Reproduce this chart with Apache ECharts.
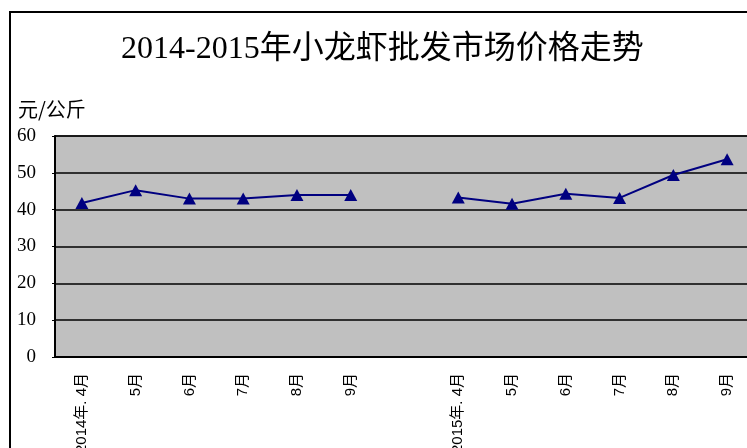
<!DOCTYPE html>
<html>
<head>
<meta charset="utf-8">
<script src="https://cdn.jsdelivr.net/npm/echarts@6/dist/echarts.min.js"></script>
<style>
html,body{margin:0;padding:0;background:#fff;}
#c{width:747px;height:448px;}
</style>
</head>
<body>
<div id="c"></div>
<script>
const titleText = '2014-2015年小龙虾批发市场价格走势';
const unitText = '元/公斤';
const categories = ['2014年. 4月','5月','6月','7月','8月','9月','','2015年. 4月','5月','6月','7月','8月','9月'];
const prices = [41.8, 45.3, 43.0, 43.0, 44.0, 44.0, null, 43.3, 41.6, 44.3, 43.2, 49.4, 53.7];
const yTicks = {min: 0, max: 60, interval: 10};

const chart = echarts.init(document.getElementById('c'), null, {renderer: 'canvas'});
chart.setOption({
  backgroundColor: '#ffffff',
  animation: false,
  title: {
    text: titleText,
    left: 116,
    top: 29,
    textStyle: {fontFamily: "'Liberation Serif','Noto Sans CJK SC'", fontSize: 32, fontWeight: 'normal', color: '#000'}
  },
  graphic: [
    {type: 'rect', shape: {x: 10, y: 12, width: 800, height: 500}, style: {fill: 'none', stroke: '#000', lineWidth: 2}, z: 100},
    {type: 'text', left: 18, top: 99, style: {text: unitText, font: "20px 'Noto Sans CJK SC'", fill: '#000'}}
  ],
  grid: {
    left: 55, top: 136, width: 699, height: 221,
    outerBoundsMode: 'none',
    containLabel: false,
    show: true, backgroundColor: '#c0c0c0', borderColor: '#444', borderWidth: 1.5
  },
  xAxis: {
    type: 'category',
    data: categories,
    boundaryGap: true,
    axisLine: {lineStyle: {color: '#000', width: 2}},
    axisTick: {inside: true, length: 4, lineStyle: {color: '#000', width: 1.5}, alignWithLabel: false},
    axisLabel: {rotate: 90, interval: 0, margin: 16, fontSize: 15, fontFamily: "'Liberation Sans','Noto Sans CJK SC'", color: '#000'}
  },
  yAxis: {
    type: 'value',
    min: yTicks.min, max: yTicks.max, interval: yTicks.interval,
    axisLine: {show: true, lineStyle: {color: '#000', width: 2}},
    axisTick: {show: true, length: 3, lineStyle: {color: '#000'}},
    axisLabel: {margin: 19, fontSize: 19, fontFamily: "'Liberation Serif','DejaVu Serif'", color: '#000'},
    splitLine: {lineStyle: {color: '#000', width: 1.5}}
  },
  series: [{
    type: 'line',
    data: prices,
    connectNulls: false,
    symbol: 'triangle',
    symbolSize: [13, 12],
    itemStyle: {color: '#000080'},
    lineStyle: {color: '#000080', width: 2}
  }]
});
</script>
</body>
</html>
